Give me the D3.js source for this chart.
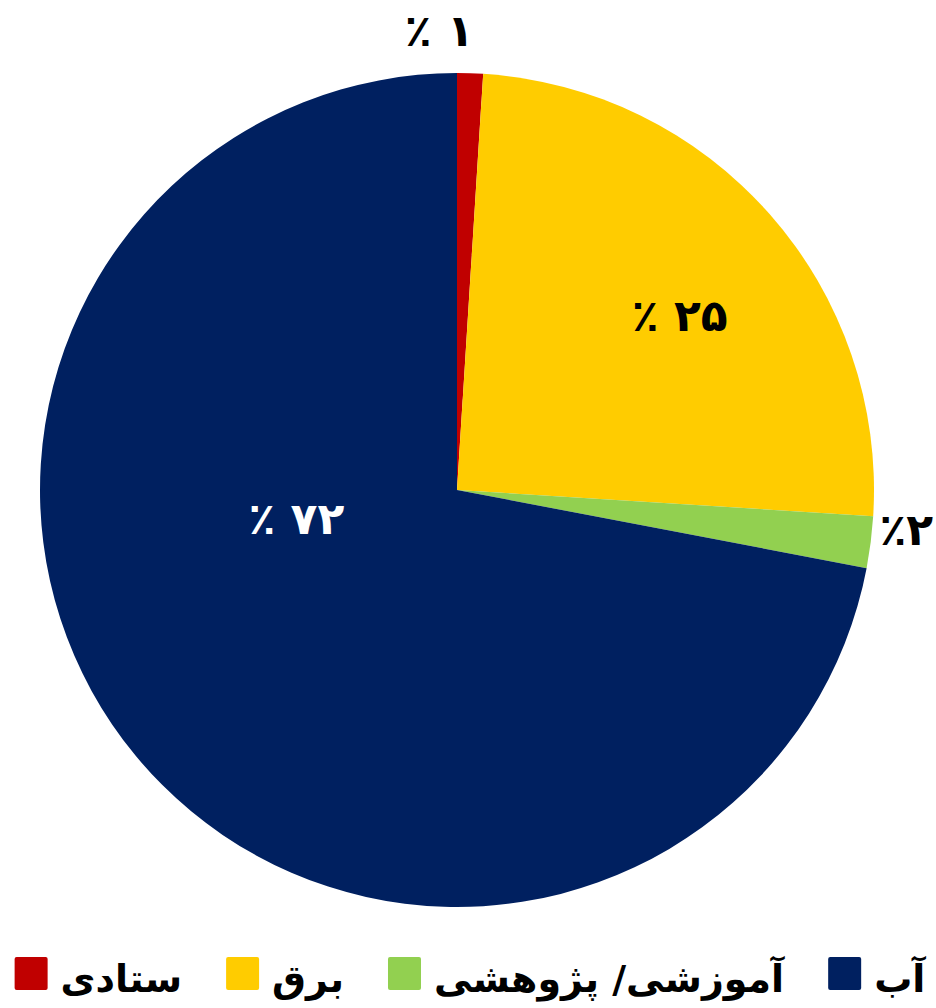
<!DOCTYPE html>
<html><head><meta charset="utf-8">
<script src="https://cdn.jsdelivr.net/npm/d3@7"></script>
<style>body{margin:0;background:#fff}svg{display:block}text{font-family:"DejaVu Sans",sans-serif;font-weight:bold}</style>
</head><body>
<script>
const categories = ["ستادی", "برق", "آموزشی/ پژوهشی", "آب"];
const values = [1, 25, 2, 72];
const labels = ["٪ ۱", "٪ ۲۵", "٪۲", "٪ ۷۲"];
const colors = ["#C00000", "#FFCC00", "#92D050", "#002060"];
const labelColors = ["#000", "#000", "#000", "#fff"];

const W = 936, H = 1008, cx = 457, cy = 490, R = 417;
// label placement (polar, degrees clockwise from top; radius in px)
const labelPolar = [{a: -2.2, r: 460}, {a: 51.9, r: 283}, {a: 95.0, r: 451}, {a: 260.2, r: 163}];

const svg = d3.select("body").append("svg").attr("width", W).attr("height", H);
const data = categories.map((c, i) => ({cat: c, value: values[i], color: colors[i], label: labels[i], lc: labelColors[i], lp: labelPolar[i]}));
const pie = d3.pie().sort(null).value(d => d.value).startAngle(0).endAngle(2 * Math.PI);
const arc = d3.arc().innerRadius(0).outerRadius(R);
const g = svg.append("g").attr("transform", `translate(${cx},${cy})`);
const arcs = pie(data);
g.selectAll("path").data(arcs).join("path").attr("d", arc).attr("fill", d => d.data.color);

g.selectAll("text.lbl").data(arcs).join("text").attr("class", "lbl")
  .attr("x", d => d.data.lp.r * Math.sin(d.data.lp.a * Math.PI / 180))
  .attr("y", d => -d.data.lp.r * Math.cos(d.data.lp.a * Math.PI / 180))
  .attr("dy", "0.36em").attr("text-anchor", "middle").attr("direction", "ltr")
  .attr("font-size", 44).attr("fill", d => d.data.lc).text(d => d.data.label);

// legend
const lg = svg.append("g");
const sq = 33, gapT = 13, gapI = 44, baseY = 992;
const items = lg.selectAll("g").data(data).join("g");
items.append("rect").attr("width", sq).attr("height", sq).attr("y", 957).attr("rx", 2).attr("fill", d => d.color);
const txt = items.append("text").attr("y", baseY).attr("font-size", 38).attr("fill", "#000")
  .attr("direction", "rtl").attr("text-anchor", "end").text(d => d.cat);
const widths = txt.nodes().map(n => n.getComputedTextLength());
const total = widths.reduce((s, w) => s + sq + gapT + w, 0) + gapI * (widths.length - 1);
let x = 470 - total / 2;
items.each(function(d, i) {
  const gi = d3.select(this);
  gi.select("rect").attr("x", x);
  gi.select("text").attr("x", x + sq + gapT);
  x += sq + gapT + widths[i] + gapI;
});
</script>
</body></html>
